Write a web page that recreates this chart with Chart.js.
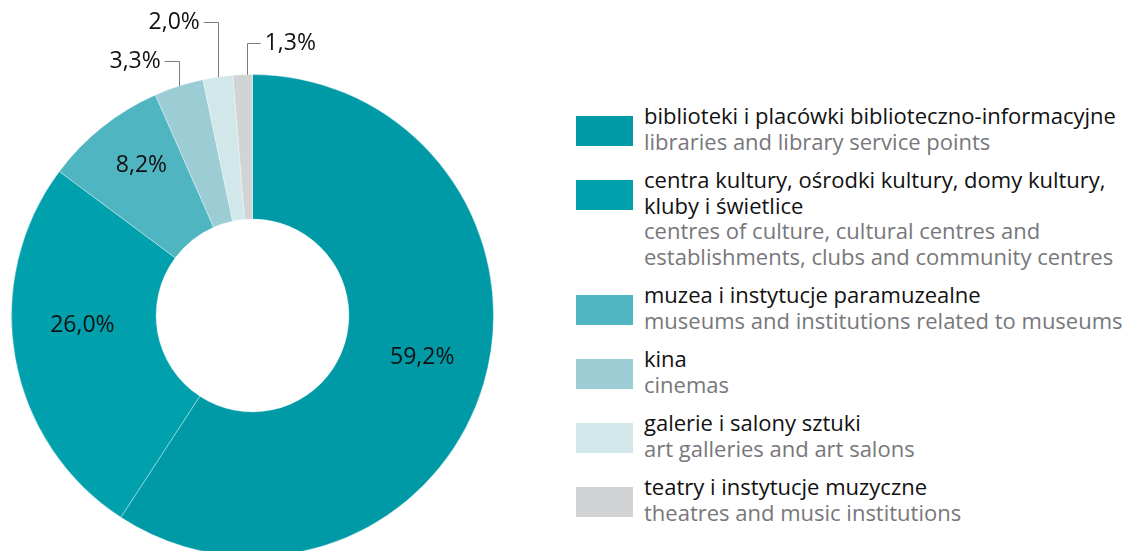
<!DOCTYPE html>
<html lang="pl">
<head>
    <meta charset="UTF-8">
    <title>Instytucje kultury</title>
    <script src="https://cdn.jsdelivr.net/npm/chart.js"></script>
    <style>
        html, body { margin: 0; padding: 0; background: #fff; overflow: hidden; }
        body { width: 1131px; height: 551px; position: relative; font-family: "Open Sans", sans-serif; }
        #donut-box { position: absolute; left: 0; top: 0; width: 560px; height: 600px; }
        #legend { position: absolute; left: 576px; top: 103px; margin: 0; padding: 0; list-style: none; }
        #legend li { display: flex; align-items: flex-start; margin-bottom: 12.6px; }
        #legend .swatch { width: 57px; height: 30px; margin-top: 13px; flex: none; }
        #legend .txt { margin-left: 11px; font-size: 22px; line-height: 25.7px; white-space: nowrap; }
        #legend .pl { color: #111; }
        #legend .en { color: #77777b; }
    </style>
</head>
<body>
    <div id="donut-box"><canvas id="donut"></canvas></div>
    <ul id="legend"></ul>
    <script>
        // udział instytucji kultury (%)
        const labelsPl = [
            'biblioteki i placówki biblioteczno-informacyjne',
            'centra kultury, ośrodki kultury, domy kultury,<br>kluby i świetlice',
            'muzea i instytucje paramuzealne',
            'kina',
            'galerie i salony sztuki',
            'teatry i instytucje muzyczne'
        ];
        const labelsEn = [
            'libraries and library service points',
            'centres of culture, cultural centres and<br>establishments, clubs and community centres',
            'museums and institutions related to museums',
            'cinemas',
            'art galleries and art salons',
            'theatres and music institutions'
        ];
        const shares = [59.2, 26.0, 8.2, 3.3, 2.0, 1.3];
        const colors = ['#009aa7', '#00a1ad', '#4fb5c1', '#9ccdd4', '#d1e7ea', '#d2d3d5'];

        const fmt = v => v.toFixed(1).replace('.', ',') + '%';

        // legenda w HTML
        const legend = document.getElementById('legend');
        labelsPl.forEach((pl, i) => {
            const li = document.createElement('li');
            li.innerHTML = '<span class="swatch" style="background:' + colors[i] + '"></span>' +
                '<span class="txt"><span class="pl">' + pl + '</span><br><span class="en">' + labelsEn[i] + '</span></span>';
            legend.appendChild(li);
        });

        // etykiety wartości: w środku dużych wycinków, z odnośnikami dla małych
        const sliceLabels = {
            id: 'sliceLabels',
            afterDatasetsDraw(chart, args, opts) {
                const ctx = chart.ctx;
                const meta = chart.getDatasetMeta(0);
                ctx.save();
                ctx.font = '23px "Open Sans", sans-serif';
                ctx.fillStyle = '#111';
                meta.data.forEach((arc, i) => {
                    const text = fmt(shares[i]);
                    const mid = (arc.startAngle + arc.endAngle) / 2;
                    if (i < opts.inside) {
                        const r = (arc.innerRadius + arc.outerRadius) / 2;
                        const nudge = opts.nudge[i] || [0, 0];
                        ctx.textAlign = 'center';
                        ctx.textBaseline = 'middle';
                        ctx.fillText(text, arc.x + Math.cos(mid) * r + nudge[0], arc.y + Math.sin(mid) * r + nudge[1]);
                    } else {
                        const c = opts.callouts[i - opts.inside];
                        const x0 = arc.x + Math.cos(mid) * arc.outerRadius + (c.dx || 0);
                        const y0 = arc.y + Math.sin(mid) * arc.outerRadius;
                        const x1 = x0 + c.dir * 14;
                        ctx.strokeStyle = '#7a7a7a';
                        ctx.lineWidth = 1;
                        ctx.beginPath();
                        ctx.moveTo(Math.round(x0) + 0.5, y0);
                        ctx.lineTo(Math.round(x0) + 0.5, c.y + 0.5);
                        ctx.lineTo(x1, c.y + 0.5);
                        ctx.stroke();
                        ctx.textAlign = c.dir < 0 ? 'right' : 'left';
                        ctx.textBaseline = 'middle';
                        ctx.fillText(text, x1 + c.dir * 4, c.y);
                    }
                });
                ctx.restore();
            }
        };

        new Chart(document.getElementById('donut'), {
            type: 'doughnut',
            data: {
                labels: labelsPl,
                datasets: [{
                    data: shares,
                    backgroundColor: colors,
                    borderColor: 'rgba(255,255,255,0.35)',
                    borderWidth: 1
                }]
            },
            options: {
                responsive: true,
                maintainAspectRatio: false,
                animation: false,
                cutout: '40%',
                events: [],
                layout: { padding: { left: 11, top: 74, right: 66, bottom: 43 } },
                plugins: {
                    legend: { display: false },
                    tooltip: { enabled: false },
                    sliceLabels: {
                        inside: 3,
                        nudge: [[8, -6], [-4, -20], [-6, -18]],
                        callouts: [
                            { y: 61, dir: -1 },
                            { y: 22, dir: -1 },
                            { y: 43, dir: 1, dx: 4 }
                        ]
                    }
                }
            },
            plugins: [sliceLabels]
        });
    </script>
</body>
</html>
